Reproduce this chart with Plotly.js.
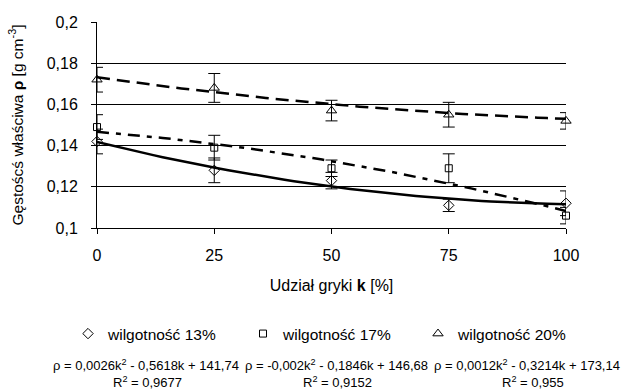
<!DOCTYPE html>
<html>
<head>
<meta charset="utf-8">
<script src="https://cdn.plot.ly/plotly-3.0.1.min.js"></script>
<style>html,body{margin:0;padding:0;background:#fff;}#chart{width:633px;height:390px;}</style>
</head>
<body>
<div id="chart"></div>
<script>
// Udział gryki k [%]
const shares = [0, 25, 50, 75, 100];

// Gęstość właściwa (mean) per moisture level
const rho13 = [0.142, 0.128, 0.123, 0.111, 0.112];
const rho17 = [0.149, 0.139, 0.129, 0.129, 0.106];
const rho20 = [0.172, 0.168, 0.157, 0.155, 0.152];

// error bar half-widths
const err13 = [0.006, 0.006, 0.004, 0.003, 0.006];
const err17 = [0.006, 0.006, 0.004, 0.007, 0.004];
const err20 = [0.006, 0.007, 0.005, 0.006, 0.004];

const seriesNames = ['wilgotność 13%', 'wilgotność 17%', 'wilgotność 20%'];

// trend-line coefficients as printed on the chart (rho*1000 = a k^2 + b k + c)
const coef13 = [0.0026, -0.5618, 141.74];
const coef17 = [-0.002, -0.1846, 146.68];
const coef20 = [0.0012, -0.3214, 173.14];

const eqTexts = [
  'ρ = 0,0026k<sup>2</sup> - 0,5618k + 141,74',
  'ρ = -0,002k<sup>2</sup> - 0,1846k + 146,68',
  'ρ = 0,0012k<sup>2</sup> - 0,3214k + 173,14'
];
const r2Texts = ['R<sup>2</sup> = 0,9677', 'R<sup>2</sup> = 0,9152', 'R<sup>2</sup> = 0,955'];

const kFine = [];
for (let k = 0; k <= 100; k += 2) kFine.push(k);
function trend(c) { return kFine.map(k => (c[0]*k*k + c[1]*k + c[2]) / 1000); }

const font = 'Liberation Sans, Arial, sans-serif';

function pts(y, e, name, sym, size) {
  return {
    x: shares, y: y, name: name, type: 'scatter', mode: 'markers',
    marker: {symbol: sym, size: size, color: '#000', line: {color: '#000', width: 1}},
    error_y: {type: 'data', array: e, visible: true, color: '#000', thickness: 1, width: 6},
    cliponaxis: false, showlegend: true
  };
}
function line(c, dash) {
  return {
    x: kFine, y: trend(c), type: 'scatter', mode: 'lines', showlegend: false,
    hoverinfo: 'skip', line: {color: '#000', width: 2.5, dash: dash}, cliponaxis: false
  };
}

const data = [
  line(coef13, 'solid'),
  line(coef17, '12px,7px,5px,7px'),
  line(coef20, '13px,7px'),
  pts(rho13, err13, seriesNames[0], 'diamond-open', 8),
  pts(rho17, err17, seriesNames[1], 'square-open', 7),
  pts(rho20, err20, seriesNames[2], 'triangle-up-open', 9)
];

const PW = 469, PH = 206, L = 97, B = 228;
const annotations = [];
const eqX = [146, 336, 527];
const r2X = [147, 337, 533];
for (let i = 0; i < 3; i++) {
  annotations.push({xref: 'paper', yref: 'paper', x: (eqX[i]-L)/PW, y: -(365-B)/PH, xanchor: 'center', yanchor: 'middle', text: eqTexts[i], showarrow: false, font: {family: font, size: 13, color: '#000'}});
  annotations.push({xref: 'paper', yref: 'paper', x: (r2X[i]-L)/PW, y: -(382-B)/PH, xanchor: 'center', yanchor: 'middle', text: r2Texts[i], showarrow: false, font: {family: font, size: 13, color: '#000'}});
}

const layout = {
  width: 633, height: 390,
  margin: {l: 97, r: 67, t: 22, b: 162},
  paper_bgcolor: '#fff', plot_bgcolor: '#fff',
  separators: ', ',
  font: {family: font, color: '#000'},
  showlegend: true,
  legend: {orientation: 'h', x: (68-L)/PW, xanchor: 'left', y: -(317-B)/PH, yanchor: 'top',
           font: {family: font, size: 15.5}, entrywidth: 130, entrywidthmode: 'pixels', itemwidth: 30,
           tracegroupgap: 0},
  xaxis: {range: [0, 100], tickvals: shares, ticktext: shares.map(String), ticks: 'outside', ticklen: 5, tickcolor: '#000',
          ticklabelstandoff: 8,
          showgrid: false, zeroline: false, showline: true, linecolor: '#000', linewidth: 1,
          tickfont: {size: 16}, title: {text: 'Udział gryki <b>k</b> [%]', font: {size: 16}, standoff: 16}},
  yaxis: {range: [0.1, 0.2], dtick: 0.02, tick0: 0.1, ticks: 'outside', ticklen: 5, tickcolor: '#000',
          ticklabelstandoff: 10,
          showgrid: true, gridcolor: '#000', gridwidth: 1, zeroline: false, showline: true, linecolor: '#000', linewidth: 1,
          tickfont: {size: 16}, title: {text: 'Gęstoścś właściwa <b>ρ</b> [g cm<sup>-3</sup>]', font: {size: 15.5}, standoff: 19}},
  annotations: annotations
};

Plotly.newPlot('chart', data, layout, {displayModeBar: false, staticPlot: true});
</script>
</body>
</html>
